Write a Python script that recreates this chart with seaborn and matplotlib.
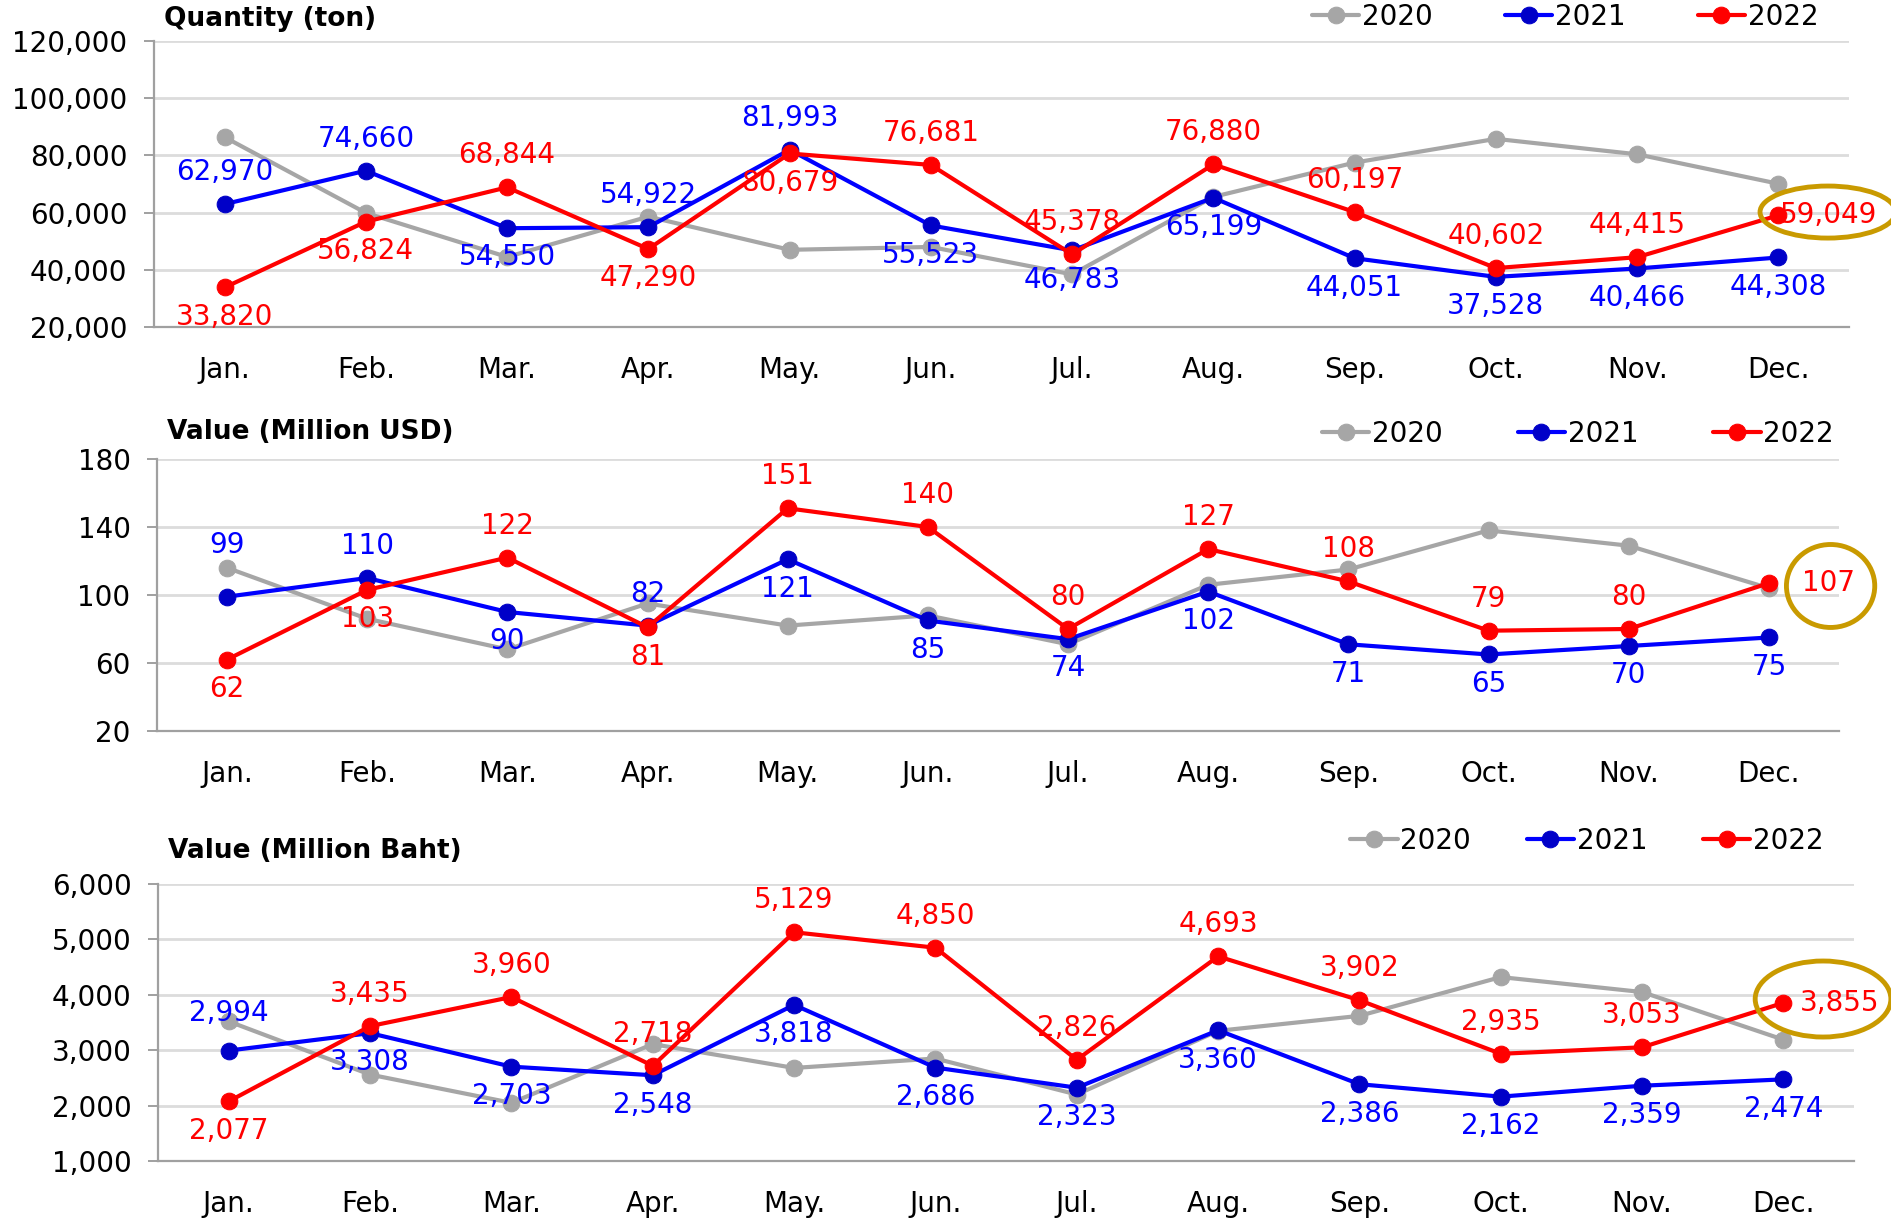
import numpy as np
import pandas as pd
import seaborn as sns
import matplotlib.pyplot as plt
from matplotlib.patches import Ellipse
from matplotlib.ticker import FuncFormatter

# month labels and years
months = ["Jan.", "Feb.", "Mar.", "Apr.", "May.", "Jun.",
          "Jul.", "Aug.", "Sep.", "Oct.", "Nov.", "Dec."]
years = ["2020", "2021", "2022"]

# Quantity (ton)
qty_2020 = [86400, 59900, 44500, 58600, 47000, 48000, 38400, 65500, 77500, 85800, 80400, 70100]
qty_2021 = [62970, 74660, 54550, 54922, 81993, 55523, 46783, 65199, 44051, 37528, 40466, 44308]
qty_2022 = [33820, 56824, 68844, 47290, 80679, 76681, 45378, 76880, 60197, 40602, 44415, 59049]

# Value (Million USD)
usd_2020 = [116, 86, 68, 95, 82, 88, 71, 106, 115, 138, 129, 104]
usd_2021 = [99, 110, 90, 82, 121, 85, 74, 102, 71, 65, 70, 75]
usd_2022 = [62, 103, 122, 81, 151, 140, 80, 127, 108, 79, 80, 107]

# Value (Million Baht)
baht_2020 = [3520, 2560, 2050, 3110, 2680, 2850, 2200, 3350, 3620, 4320, 4050, 3190]
baht_2021 = [2994, 3308, 2703, 2548, 3818, 2686, 2323, 3360, 2386, 2162, 2359, 2474]
baht_2022 = [2077, 3435, 3960, 2718, 5129, 4850, 2826, 4693, 3902, 2935, 3053, 3855]

# where each data label sits relative to its point (U = further up)
qty_pos_2021 = ["u", "u", "d", "u", "u", "d", "d", "d", "d", "d", "d", "d"]
qty_pos_2022 = ["d", "d", "u", "d", "d", "u", "u", "u", "u", "u", "u", "r"]
usd_pos_2021 = ["U", "u", "d", "u", "d", "d", "d", "d", "d", "d", "d", "d"]
usd_pos_2022 = ["d", "d", "u", "d", "u", "u", "u", "u", "u", "u", "u", "r"]
baht_pos_2021 = ["U", "d", "d", "d", "d", "d", "d", "d", "d", "d", "d", "d"]
baht_pos_2022 = ["d", "u", "u", "u", "u", "u", "u", "u", "u", "u", "u", "r"]

colors = {"2020": "#A6A6A6", "2021": "#0000FF", "2022": "#FF0000"}
marker_colors = {"2020": "#A6A6A6", "2021": "#0000C8", "2022": "#FF0000"}
GOLD = "#C99A00"
FS = 20

sns.set_style("white")
plt.rcParams["font.family"] = ["DejaVu Sans"]
plt.rcParams["text.color"] = "black"
plt.rcParams["xtick.labelcolor"] = "black"
plt.rcParams["ytick.labelcolor"] = "black"

fig = plt.figure(figsize=(18.91, 12.22), dpi=100)
ax1 = fig.add_axes([0.0814, 0.7324, 0.8964, 0.234])
ax2 = fig.add_axes([0.0830, 0.4018, 0.8895, 0.2226])
ax3 = fig.add_axes([0.0836, 0.0499, 0.8969, 0.2267])

x = np.arange(len(months))


def draw_panel(ax, series, places, title, ylim, ystep, comma, title_y, leg_xy,
               colspace, right_off, ellipse, big_up):
    for yr, vals in zip(years, series):
        df = pd.DataFrame({"month": x, "value": vals})
        sns.lineplot(data=df, x="month", y="value", ax=ax, color=colors[yr],
                     marker="o", markersize=12, linewidth=3,
                     markerfacecolor=marker_colors[yr],
                     markeredgecolor=marker_colors[yr], label=yr)

    fmt = (lambda v: f"{v:,}") if comma else (lambda v: f"{v}")
    for yr, vals, pos in zip(years[1:], series[1:], places):
        for i, (v, p) in enumerate(zip(vals, pos)):
            if p == "u":
                off, ha, va = (0, 13), "center", "bottom"
            elif p == "U":
                off, ha, va = (0, big_up), "center", "bottom"
            elif p == "d":
                off, ha, va = (0, -11), "center", "top"
            else:
                off, ha, va = (right_off, 0), "left", "center"
            ax.annotate(fmt(v), (i, v), xytext=off, textcoords="offset points",
                        ha=ha, va=va, fontsize=FS, color=colors[yr],
                        annotation_clip=False)

    # highlight on December 2022
    ex, ey, ew, eh = ellipse
    ax.add_patch(Ellipse((11 + ex, ey), ew, eh, fill=False, edgecolor=GOLD,
                         linewidth=3.5, clip_on=False, zorder=5))

    ax.set_xlim(-0.5, 11.5)
    ax.set_ylim(*ylim)
    ax.set_yticks(np.arange(ylim[0], ylim[1] + 1, ystep))
    ax.yaxis.set_major_formatter(FuncFormatter(lambda v, _: fmt(int(v))))
    ax.set_xticks(np.arange(-0.5, 12, 1))
    ax.set_xticklabels([])
    ax.set_xticks(x, minor=True)
    ax.set_xticklabels(months, minor=True)
    ax.tick_params(axis="x", which="major", length=11, width=1.3, color="#999999",
                   direction="out")
    ax.tick_params(axis="x", which="minor", length=0, pad=21, labelsize=FS,
                   labelcolor="black")
    ax.tick_params(axis="y", length=7, width=1.3, color="#999999", pad=12,
                   labelsize=FS, left=True, labelcolor="black")
    ax.grid(axis="y", color="#DCDCDC", linewidth=2)
    ax.set_axisbelow(True)
    sns.despine(ax=ax)
    for s in ("left", "bottom"):
        ax.spines[s].set_color("#A0A0A0")
        ax.spines[s].set_linewidth(1.6)
    ax.set_xlabel("")
    ax.set_ylabel("")

    ax.text(0.006, title_y, title, transform=ax.transAxes, fontsize=19,
            fontweight="bold", ha="left", va="center", color="black")
    leg = ax.legend(loc="center right", bbox_to_anchor=leg_xy, ncol=3,
                    frameon=False, fontsize=FS, handlelength=1.7,
                    handletextpad=0.1, columnspacing=colspace, borderpad=0,
                    borderaxespad=0)
    for t in leg.get_texts():
        t.set_color("black")


draw_panel(ax1, [qty_2020, qty_2021, qty_2022], [qty_pos_2021, qty_pos_2022],
           "Quantity (ton)", (20000, 120000), 20000, True, 1.077, (0.982, 1.084),
           2.6, 1, (0.35, 60200, 0.96, 18200), 13)
draw_panel(ax2, [usd_2020, usd_2021, usd_2022], [usd_pos_2021, usd_pos_2022],
           "Value (Million USD)", (20, 180), 40, False, 1.099, (0.997, 1.092),
           2.7, 24, (0.44, 105.3, 0.63, 48.8), 27)
draw_panel(ax3, [baht_2020, baht_2021, baht_2022], [baht_pos_2021, baht_pos_2022],
           "Value (Million Baht)", (1000, 6000), 1000, True, 1.119, (0.982, 1.155),
           2.0, 12, (0.28, 3924, 0.96, 1372), 17)

fig.savefig("out.png", dpi=100)
